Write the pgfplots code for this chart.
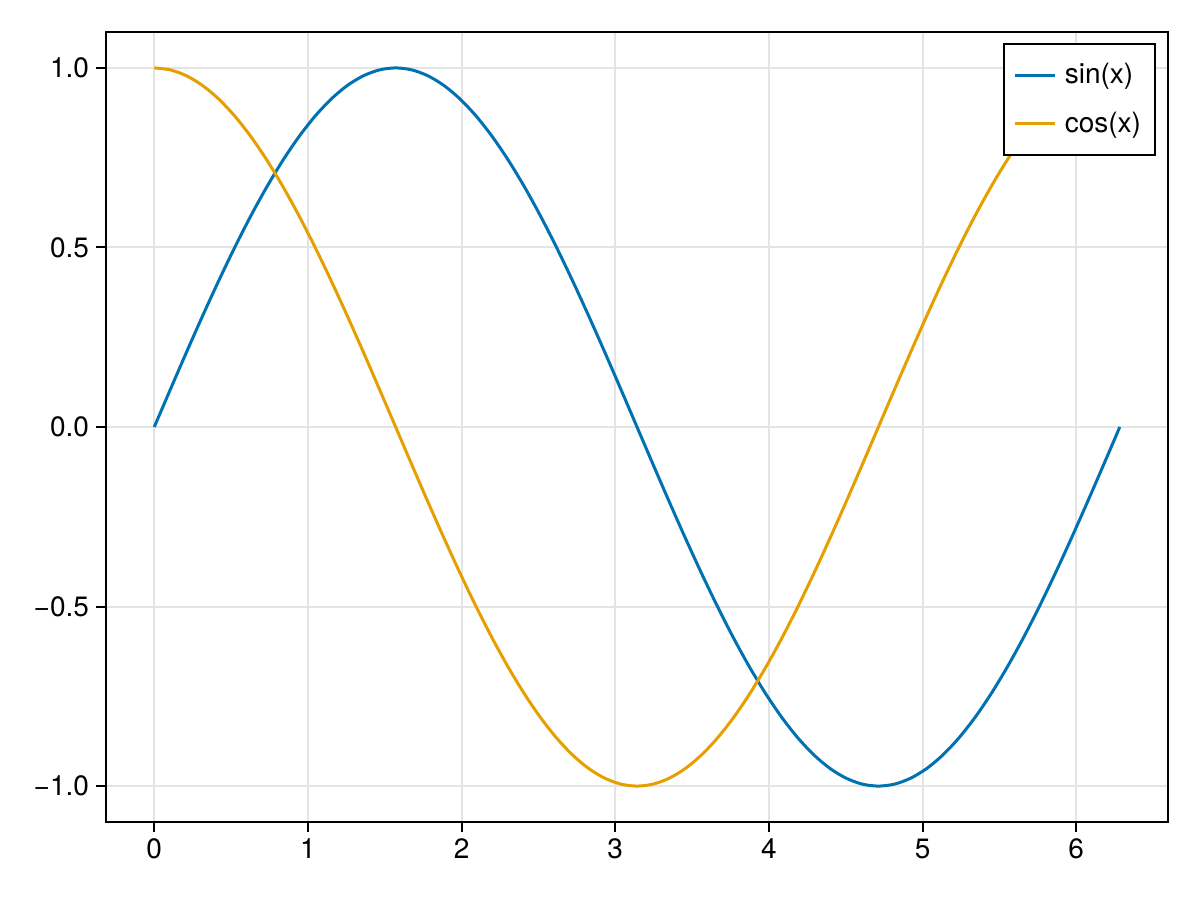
\documentclass[border=0pt]{standalone}
\usepackage{fontspec}
\setmainfont{TeX Gyre Heros}
\usepackage{pgfplots}
\usepackage{pgfplotstable}
\pgfplotsset{compat=1.18}
\definecolor{wblue}{RGB}{0,114,178}
\definecolor{worange}{RGB}{230,159,0}
\definecolor{gridc}{RGB}{228,228,228}
\pgfplotstableread{
x s c
0.0000 0.0000 1.0000
0.1047 0.1045 0.9945
0.2094 0.2079 0.9781
0.3142 0.3090 0.9511
0.4189 0.4067 0.9135
0.5236 0.5000 0.8660
0.6283 0.5878 0.8090
0.7330 0.6691 0.7431
0.8378 0.7431 0.6691
0.9425 0.8090 0.5878
1.0472 0.8660 0.5000
1.1519 0.9135 0.4067
1.2566 0.9511 0.3090
1.3614 0.9781 0.2079
1.4661 0.9945 0.1045
1.5708 1.0000 0.0000
1.6755 0.9945 -0.1045
1.7802 0.9781 -0.2079
1.8850 0.9511 -0.3090
1.9897 0.9135 -0.4067
2.0944 0.8660 -0.5000
2.1991 0.8090 -0.5878
2.3038 0.7431 -0.6691
2.4086 0.6691 -0.7431
2.5133 0.5878 -0.8090
2.6180 0.5000 -0.8660
2.7227 0.4067 -0.9135
2.8274 0.3090 -0.9511
2.9322 0.2079 -0.9781
3.0369 0.1045 -0.9945
3.1416 0.0000 -1.0000
3.2463 -0.1045 -0.9945
3.3510 -0.2079 -0.9781
3.4558 -0.3090 -0.9511
3.5605 -0.4067 -0.9135
3.6652 -0.5000 -0.8660
3.7699 -0.5878 -0.8090
3.8746 -0.6691 -0.7431
3.9794 -0.7431 -0.6691
4.0841 -0.8090 -0.5878
4.1888 -0.8660 -0.5000
4.2935 -0.9135 -0.4067
4.3982 -0.9511 -0.3090
4.5029 -0.9781 -0.2079
4.6077 -0.9945 -0.1045
4.7124 -1.0000 0.0000
4.8171 -0.9945 0.1045
4.9218 -0.9781 0.2079
5.0265 -0.9511 0.3090
5.1313 -0.9135 0.4067
5.2360 -0.8660 0.5000
5.3407 -0.8090 0.5878
5.4454 -0.7431 0.6691
5.5501 -0.6691 0.7431
5.6549 -0.5878 0.8090
5.7596 -0.5000 0.8660
5.8643 -0.4067 0.9135
5.9690 -0.3090 0.9511
6.0737 -0.2079 0.9781
6.1785 -0.1045 0.9945
6.2832 0.0000 1.0000
}\data
\begin{document}
\begin{tikzpicture}
\begin{axis}[
  at={(53pt,39pt)}, anchor=south west,
  scale only axis, width=531pt, height=395pt,
  xmin=-0.314, xmax=6.597, ymin=-1.1, ymax=1.1,
  xtick={0,1,2,3,4,5,6}, xticklabels={0,1,2,3,4,5,6},
  ytick={-1,-0.5,0,0.5,1}, yticklabels={−1.0,−0.5,0.0,0.5,1.0},
  tick align=outside, major tick length=5pt,
  tick style={black, line width=1pt},
  xtick pos=bottom, ytick pos=left,
  axis line style={line width=1pt},
  grid=major, major grid style={gridc, line width=1pt},
  tick label style={font=\fontsize{14}{16}\selectfont},
  every axis plot/.append style={line width=1.5pt},
  legend style={at={(1,1)}, anchor=north east, xshift=-6pt, yshift=-5.5pt,
    draw=black, line width=1pt, font=\fontsize{14}{16}\selectfont,
    inner xsep=5pt, inner ysep=7.75pt, row sep=8.5pt, cells={anchor=west}},
  legend image code/.code={\draw[#1] (0pt,0pt) -- (20pt,0pt); \path (22pt,0pt);},
  legend cell align=left,
]
\addplot[wblue, no markers, smooth] table[x=x, y=s] {\data};
\addlegendentry{sin(x)}
\addplot[worange, no markers, smooth] table[x=x, y=c] {\data};
\addlegendentry{cos(x)}
\end{axis}
\pgfresetboundingbox
\path (0,0) rectangle (600pt,450pt);
\end{tikzpicture}
\end{document}
